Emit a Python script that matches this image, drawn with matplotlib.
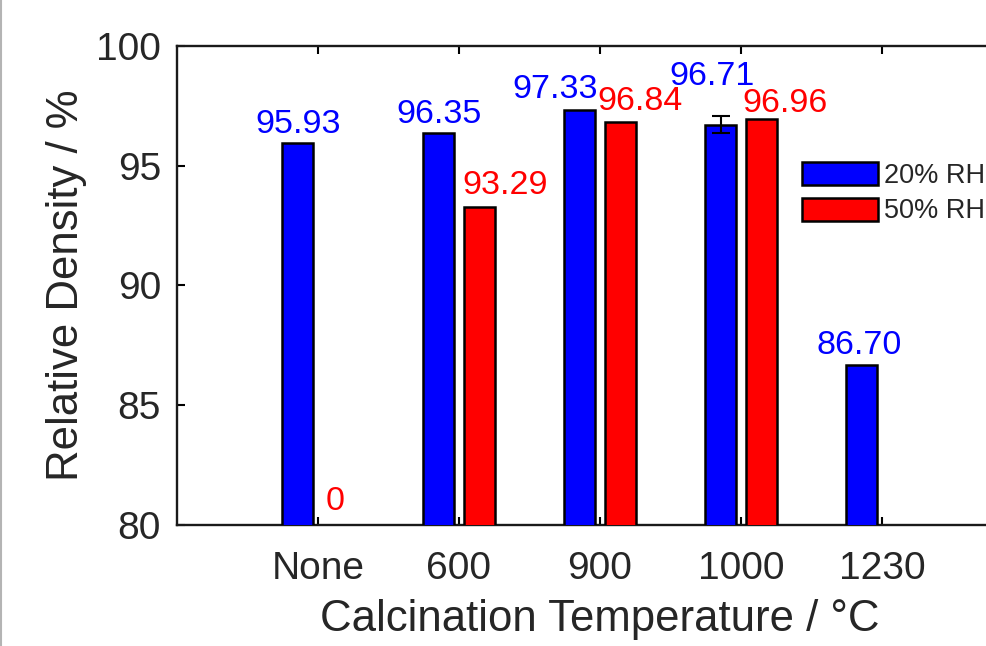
import numpy as np
import matplotlib
matplotlib.use('Agg')
import matplotlib.pyplot as plt
from matplotlib.lines import Line2D

plt.rcParams['font.family'] = ['Liberation Sans', 'DejaVu Sans']

# relative density per calcination temperature, two humidity levels
categories = ['None', '600', '900', '1000', '1230']
rh20 = [95.93, 96.35, 97.33, 96.71, 86.70]
rh50 = [0.0, 93.29, 96.84, 96.96, np.nan]
rh20_err = [0.0, 0.0, 0.0, 0.36, 0.0]
series_names = ['20% RH', '50% RH']

DPI = 100
W, H = 987, 646
fig = plt.figure(figsize=(W / DPI, H / DPI), dpi=DPI)
# axes box runs past the right edge of the canvas
ax = fig.add_axes([177 / W, 1 - 525 / H, 846 / W, 479 / H])

x = np.arange(1, len(categories) + 1)
off = 0.142
bw = 0.22
dark = '#262626'

ax.bar(x - off, rh20, bw, color='#0000ff', edgecolor='black', linewidth=1.8,
       label=series_names[0], zorder=3)
ax.bar(x + off, np.nan_to_num(rh50), bw, color='#ff0000', edgecolor='black',
       linewidth=1.8, label=series_names[1], zorder=3)
has_err = np.array(rh20_err) > 0
ax.errorbar((x - off)[has_err], np.array(rh20)[has_err],
            yerr=np.array(rh20_err)[has_err], fmt='none', ecolor='black',
            elinewidth=1.5, capsize=6.5, capthick=1.5, zorder=4)

ax.set_xlim(0, 6)
ax.set_ylim(80, 100)
ax.set_xticks(x)
ax.set_xticklabels(categories)
ax.set_yticks([80, 85, 90, 95, 100])

# hand-placed value labels (pixel nudges: dx, dy above the bar top)
nudge20 = [(0, 10), (0, 10), (-25, 12), (-9, 40), (-3, 11)]
nudge50 = [(-3, 15), (26, 13), (20, 12), (24, 7), None]
px = 72 / DPI
for xi, v, nd in zip(x - off, rh20, nudge20):
    ax.annotate(f'{v:.2f}', (xi, max(v, 80)), xytext=(nd[0] * px, nd[1] * px),
                textcoords='offset points', ha='center', va='baseline',
                color='#0000ff', fontsize=24.5, annotation_clip=False)
for xi, v, nd in zip(x + off, rh50, nudge50):
    if nd is None:
        continue
    txt = '0' if v == 0 else f'{v:.2f}'
    ax.annotate(txt, (xi, max(v, 80)), xytext=(nd[0] * px, nd[1] * px),
                textcoords='offset points', ha='center', va='baseline',
                color='#ff0000', fontsize=24.5, annotation_clip=False)

ax.tick_params(axis='both', direction='in', length=5.8, width=1.5,
               colors='black', labelcolor=dark, labelsize=28)
ax.tick_params(axis='x', top=True, pad=18.5)
ax.tick_params(axis='y', pad=11.5)

for side in ['left', 'top', 'bottom', 'right']:
    ax.spines[side].set_linewidth(1.7)
    ax.spines[side].set_color('#1a1a1a')

ax.set_xlabel('Calcination Temperature / °C', fontsize=31.5, color=dark,
              labelpad=9)
ax.set_ylabel('Relative Density / %', fontsize=31.5, color=dark, labelpad=6.5)

ax.legend(loc='upper left', bbox_to_anchor=(802 / W, 1 - 162 / H),
          bbox_transform=fig.transFigure, frameon=False, fontsize=19.5,
          borderpad=0, borderaxespad=0, handlelength=2.8, handleheight=0.92,
          handletextpad=0.22, labelspacing=0.33, labelcolor=dark)

# thin grey page border on the left
fig.add_artist(Line2D([1.5 / W, 1.5 / W], [0, 1], color='#b4b4b4', lw=1.5,
                      transform=fig.transFigure))

fig.savefig('out.png', dpi=DPI)
